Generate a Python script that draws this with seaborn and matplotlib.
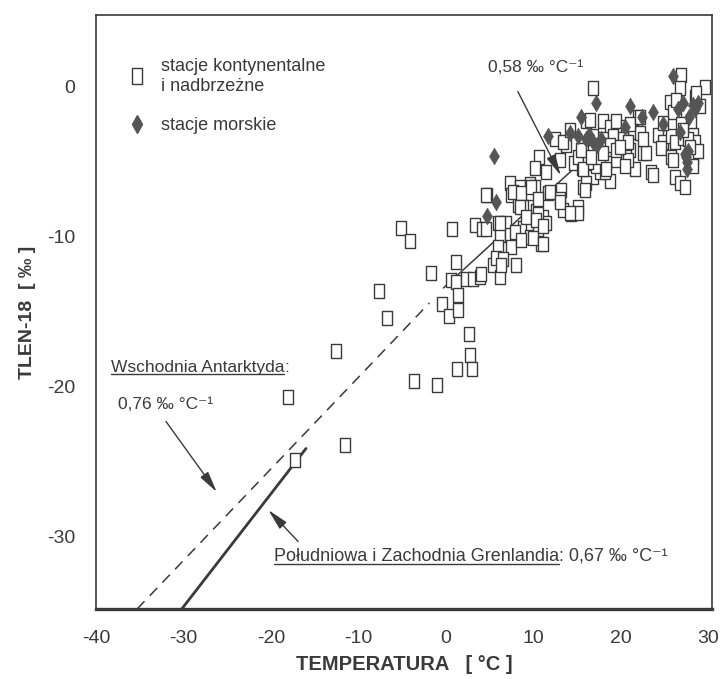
import numpy as np
import pandas as pd
import matplotlib
matplotlib.use("Agg")
import matplotlib.pyplot as plt
import seaborn as sns
from matplotlib.lines import Line2D

# ---------------- data ----------------
# continental & coastal stations (temperature [°C], delta O-18 [permil])
cont_temp = [-5.1, -4.1, -7.7, -6.7, -12.6, -3.7, -1.0, -18.1, -11.5, -17.3,
             -1.7, 0.7, 1.1, 0.6, 1.1, 1.4, -0.5, 0.3, 1.4, 2.6,
             2.7, 1.3, 3.0, 2.3, 3.1, 3.9, 3.3, 4.1, 4.7, 5.4,
             6.2, 8.0, 5.9, 6.9, 6.2, 7.3, 8.2, 8.8, 9.7, 9.6,
             10.5, 10.9, 7.4, 5.9, 5.7, 6.5, 6.3, 4.0, 7.3, 8.5,
             9.6, 10.2, 7.4, 8.5, 9.6, 8.2, 9.6, 10.3, 11.1, 11.4,
             10.5, 12.5, 13.7, 15.7, 16.8, 10.6, 10.2, 11.4, 14.6, 15.5,
             16.6, 17.4, 15.7, 4.6, 7.7, 11.7, 13.1, 13.0, 13.4, 14.3,
             15.1, 15.1, 8.8, 7.9, 8.6, 9.9, 11.1, 4.6, 16.8, 26.9,
             26.7, 29.6, 28.5, 25.6, 29.0, 17.9, 18.7, 19.4, 20.6, 21.4,
             22.2, 16.0, 21.9, 20.6, 21.0, 22.5, 24.2, 24.8, 24.6, 25.7,
             26.2, 27.1, 28.2, 28.5, 28.2, 28.8, 28.2, 25.7, 26.2, 26.7,
             27.3, 23.4, 21.6, 16.8, 18.7, 17.6, 19.4, 20.6, 16.0, 15.9,
             16.0, 17.1, 18.3, 25.9, 27.4, 28.0, 26.9, 17.9, 19.1, 15.1,
             18.7, 19.4, 20.2, 20.8, 18.2, 17.6, 16.2,
             13.4, 15.4, 15.7, 16.6, 17.9, 18.3, 20.5, 21.0, 22.2, 22.9,
             23.7, 24.8, 25.9, 27.7, 27.1, 26.3, 28.6, 27.9, 22.5, 20.8,
             19.9, 16.8, 16.5, 14.2, 13.0, 8.6, 9.7, 10.5, 11.9, 13.0,
             14.2, 8.5, 9.1, 10.3, 11.1, 6.2]
cont_o18 = [-9.4, -10.3, -13.6, -15.4, -17.6, -19.6, -19.9, -20.7, -23.9, -24.9,
            -12.4, -9.5, -11.7, -12.9, -13.0, -13.9, -14.5, -15.3, -14.9, -16.5,
            -17.9, -18.8, -18.8, -12.8, -12.8, -12.7, -9.2, -9.5, -7.2, -11.9,
            -12.7, -11.9, -9.1, -9.1, -9.9, -9.9, -9.9, -9.4, -9.3, -10.0,
            -9.5, -10.5, -10.7, -10.7, -11.4, -11.5, -11.9, -12.5, -6.4, -6.7,
            -6.5, -6.7, -7.2, -7.3, -7.3, -7.9, -8.0, -8.3, -8.7, -9.1,
            -8.5, -3.5, -3.9, -4.2, -3.4, -4.7, -5.4, -5.7, -5.1, -5.4,
            -5.7, -5.5, -6.7, -7.2, -7.0, -7.1, -6.9, -7.5, -8.2, -8.5,
            -8.0, -8.4, -8.0, -9.7, -10.2, -10.1, -10.5, -9.5, -0.1, 0.8,
            -0.1, 0.0, -0.7, -1.0, -1.3, -2.3, -2.7, -2.3, -2.7, -3.0,
            -3.1, -2.3, -2.0, -3.7, -4.2, -4.4, -3.2, -3.7, -4.1, -3.3,
            -3.7, -3.4, -3.2, -3.7, -4.7, -4.3, -5.3, -4.7, -6.0, -6.4,
            -6.7, -5.7, -5.5, -6.0, -6.3, -5.7, -4.9, -4.7, -6.4, -6.9,
            -4.9, -5.3, -5.1, -1.7, -1.7, -2.3, -2.5, -3.5, -3.3, -4.7,
            -3.9, -4.2, -3.5, -4.9, -5.7, -4.7, -5.0,
            -3.7, -4.2, -5.5, -4.7, -4.4, -5.5, -5.3, -2.5, -2.0, -4.4,
            -5.9, -2.4, -4.9, -3.5, -2.9, -0.9, -0.4, -4.0, -3.5, -3.7,
            -4.0, -3.3, -2.2, -2.9, -4.9, -7.1, -6.7, -7.5, -7.0, -7.7,
            -8.4, -8.0, -8.7, -8.9, -9.3, -9.1]

# marine stations
sea_temp = [5.5, 5.7, 4.7, 11.7, 15.4, 17.1, 21.0, 23.7, 22.4, 25.9,
            28.8, 27.1, 27.4, 27.5, 27.7, 15.1, 16.0, 16.8, 17.7, 14.2,
            24.8, 28.2, 26.7, 20.5, 27.5, 27.3, 27.8, 26.5, 17.2, 16.3,
            28.5]
sea_o18 = [-4.6, -7.7, -8.6, -3.3, -2.0, -1.1, -1.3, -1.7, -2.0, 0.7,
           -1.1, -1.1, -4.7, -5.0, -4.3, -3.3, -3.5, -3.7, -3.5, -3.1,
           -2.5, -1.2, -3.0, -2.7, -5.5, -4.5, -2.0, -1.5, -3.9, -3.2,
           -1.5]

# regression lines (end points)
fit_all_temp = [-0.3, 14.5]          # 0,58 ‰/°C (all stations)
fit_all_o18 = [-13.4, -5.5]
antarctica_temp = [-35.3, -1.9]      # 0,76 ‰/°C (East Antarctica)
antarctica_o18 = [-34.8, -14.4]
greenland_temp = [-30.2, -16.0]      # 0,67 ‰/°C (S & W Greenland)
greenland_o18 = [-34.8, -24.1]

x_ticks = [-40, -30, -20, -10, 0, 10, 20, 30]
y_ticks = [0, -10, -20, -30]

cont = pd.DataFrame({"temp": cont_temp, "o18": cont_o18})
sea = pd.DataFrame({"temp": sea_temp, "o18": sea_o18})

# ---------------- style ----------------
sns.set_theme(style="white")
plt.rcParams["font.family"] = ["Liberation Sans", "DejaVu Sans"]
ink = "#3a3a3a"
plt.rcParams["text.color"] = ink
plt.rcParams["axes.labelcolor"] = ink
plt.rcParams["xtick.color"] = ink
plt.rcParams["ytick.color"] = ink

fig = plt.figure(figsize=(7.2, 6.79), dpi=100)
ax = fig.add_axes([0.1333, 0.1031, 0.8557, 0.8749])

rect = [(-0.32, -0.5), (0.32, -0.5), (0.32, 0.5), (-0.32, 0.5), (-0.32, -0.5)]

sns.lineplot(x=antarctica_temp, y=antarctica_o18, ax=ax, color=ink,
             linewidth=1.1, linestyle=(0, (7, 5)), zorder=1)
sns.lineplot(x=greenland_temp, y=greenland_o18, ax=ax, color=ink,
             linewidth=2.0, zorder=1)
sns.lineplot(x=fit_all_temp, y=fit_all_o18, ax=ax, color=ink,
             linewidth=1.1, zorder=1)

sns.scatterplot(data=cont, x="temp", y="o18", ax=ax, marker=rect, s=105,
                facecolor="white", edgecolor=ink, linewidth=1.0, zorder=2)
sns.scatterplot(data=sea, x="temp", y="o18", ax=ax, marker="d", s=70,
                color="#555555", edgecolor="#555555", linewidth=0.5, zorder=3)

ax.set_xlim(-40, 30.4)
ax.set_ylim(-34.8, 4.8)
ax.set_xticks(x_ticks)
ax.set_yticks(y_ticks)
ax.set_xticklabels([str(v) for v in x_ticks], fontsize=14)
ax.set_yticklabels([str(v) for v in y_ticks], fontsize=14)
ax.tick_params(direction="out", length=9, width=1.0, pad=6)
for side in ["left", "right", "top"]:
    ax.spines[side].set_color(ink)
    ax.spines[side].set_linewidth(1.2)
ax.spines["bottom"].set_color(ink)
ax.spines["bottom"].set_linewidth(2.4)

ax.set_xlabel("TEMPERATURA   [ °C ]", fontsize=14.5, fontweight="bold", labelpad=6)
ax.set_ylabel("TLEN-18  [ ‰ ]", fontsize=14, fontweight="bold", labelpad=8)

# legend
handles = [
    Line2D([], [], marker=rect, linestyle="none", markersize=11,
           markerfacecolor="white", markeredgecolor=ink, markeredgewidth=1.0),
    Line2D([], [], marker="d", linestyle="none", markersize=9,
           markerfacecolor="#555555", markeredgecolor="#555555"),
]
ax.legend(handles, ["stacje kontynentalne\ni nadbrzeżne", "stacje morskie"],
          loc="upper left", bbox_to_anchor=(0.026, 0.955), frameon=False,
          fontsize=13, handlelength=1.0, handletextpad=0.8, labelspacing=1.25,
          labelcolor=ink)

# annotations
fs = 12.5
arrow_kw = dict(arrowstyle="-|>,head_length=0.8,head_width=0.18", color=ink,
                lw=1.0, mutation_scale=16, shrinkA=0, shrinkB=0)
ax.text(4.8, 1.3, "0,58 ‰ °C⁻¹", fontsize=fs, ha="left", va="center")
ax.annotate("", xy=(13.1, -5.9), xytext=(8.2, -0.3), arrowprops=arrow_kw)

t1 = ax.text(-38.3, -18.7, "Wschodnia Antarktyda", fontsize=fs,
             ha="left", va="center")
ax.text(-37.5, -21.2, "0,76 ‰ °C⁻¹", fontsize=fs, ha="left", va="center")
ax.annotate("", xy=(-26.2, -27.0), xytext=(-32.0, -22.3), arrowprops=arrow_kw)

t2 = ax.text(-19.7, -31.3, "Południowa i Zachodnia Grenlandia", fontsize=13,
             ha="left", va="center")
ax.annotate("", xy=(-20.3, -28.2), xytext=(-16.9, -30.3), arrowprops=arrow_kw)

fig.canvas.draw()
renderer = fig.canvas.get_renderer()
inv = fig.transFigure.inverted()
for t, tail, size in [(t1, ":", fs), (t2, ": 0,67 ‰ °C⁻¹", 13)]:
    bb = t.get_window_extent(renderer)
    (x0, y0) = inv.transform((bb.x0, bb.y0 + 1))
    (x1, _) = inv.transform((bb.x1, bb.y0 + 1))
    fig.add_artist(Line2D([x0, x1], [y0, y0], color=ink, lw=1.0,
                          transform=fig.transFigure))
    xm, ym = inv.transform((bb.x1, (bb.y0 + bb.y1) / 2))
    fig.text(xm, ym, tail, fontsize=size, ha="left", va="center", color=ink)

fig.savefig("out.png", dpi=100)
